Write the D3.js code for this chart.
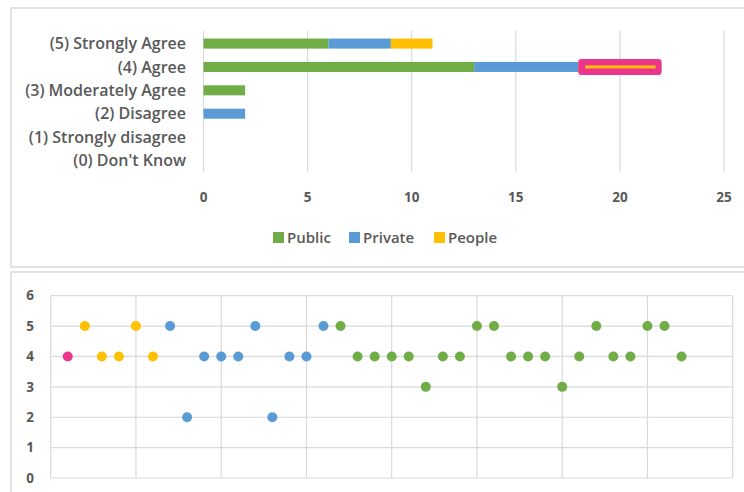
<!DOCTYPE html>
<html><head><meta charset="utf-8">
<script src="https://cdn.jsdelivr.net/npm/d3@7"></script>
<style>body{margin:0;background:#fff}svg{display:block;font-family:"Open Sans",Lato,sans-serif;font-weight:600}</style>
</head><body><svg id="c" width="744" height="492"></svg>
<script>
// ---- top chart data
const categories = ["(5) Strongly Agree","(4) Agree","(3) Moderately Agree","(2) Disagree","(1) Strongly disagree","(0) Don't Know"];
const publicVals  = [6, 13, 2, 0, 0, 0];
const privateVals = [3, 5, 0, 2, 0, 0];
const peopleVals  = [2, 4, 0, 0, 0, 0];
const highlighted = ["(4) Agree"];
const seriesNames = ["Public","Private","People"];
const xTicks = [0,5,10,15,20,25];
// ---- bottom chart data (respondent order, score, group)
const scatterScores = [4,5,4,4,5,4, 5,2,4,4,4,5,2,4,4,5, 5,4,4,4,4,3,4,4,5,5,4,4,4,3,4,5,4,4,5,5,4];
const scatterGroups = ["Highlight","People","People","People","People","People",
  "Private","Private","Private","Private","Private","Private","Private","Private","Private","Private",
  "Public","Public","Public","Public","Public","Public","Public","Public","Public","Public","Public","Public","Public","Public","Public","Public","Public","Public","Public","Public","Public"];
const yTicks = [0,1,2,3,4,5,6];

const colors = {Public:"#70ad47", Private:"#5b9bd5", People:"#ffc000", Highlight:"#ec368d"};
const textColor = "#595959", gridColor = "#d9d9d9";

const svg = d3.select("#c");
// panel frames
svg.append("rect").attr("x",11).attr("y",8).attr("width",740).attr("height",259)
  .attr("fill","none").attr("stroke",gridColor).attr("stroke-width",1.5);
svg.append("rect").attr("x",11).attr("y",272).attr("width",740).attr("height",230)
  .attr("fill","none").attr("stroke",gridColor).attr("stroke-width",1.5);

// ===== top bar chart
const x = d3.scaleLinear().domain([0,25]).range([203.5,724]);
const y = d3.scaleBand().domain(categories).range([32,172]).paddingInner(0.57).paddingOuter(0.28);
const g1 = svg.append("g");
g1.selectAll("line.grid").data(xTicks).join("line").attr("class","grid")
  .attr("x1",d=>x(d)).attr("x2",d=>x(d)).attr("y1",31).attr("y2",172)
  .attr("stroke",gridColor).attr("stroke-width",1.2);
g1.selectAll("text.tick").data(xTicks).join("text").attr("class","tick")
  .attr("x",d=>x(d)).attr("y",201.5).attr("text-anchor","middle").attr("font-weight",700)
  .attr("fill",textColor).attr("font-size",13.5).text(d=>d);
g1.selectAll("text.cat").data(categories).join("text").attr("class","cat")
  .attr("x",186).attr("y",d=>y(d)+y.bandwidth()/2).attr("dy","0.35em").attr("text-anchor","end")
  .attr("fill",textColor).attr("font-size",16).text(d=>d);

const rows = categories.map((c,i)=>({cat:c, Public:publicVals[i], Private:privateVals[i], People:peopleVals[i]}));
const stacked = d3.stack().keys(seriesNames)(rows);
stacked.forEach(s=>{
  g1.append("g").selectAll("rect").data(s.filter(d=>d[1]>d[0])).join("rect")
    .attr("x",d=>x(d[0])).attr("width",d=>x(d[1])-x(d[0]))
    .attr("y",d=>y(d.data.cat)).attr("height",y.bandwidth())
    .attr("fill",colors[s.key]);
});
// highlighted segment
const peopleSeries = stacked[2].filter(d=>highlighted.includes(d.data.cat) && d[1]>d[0]);
const hg = g1.append("g");
hg.selectAll("rect.hl").data(peopleSeries).join("rect").attr("class","hl")
  .attr("x",d=>x(d[0])).attr("width",d=>x(d[1])-x(d[0]))
  .attr("y",d=>y(d.data.cat)+y.bandwidth()/2-8).attr("height",16).attr("rx",3)
  .attr("fill",colors.Highlight);
hg.selectAll("rect.in").data(peopleSeries).join("rect").attr("class","in")
  .attr("x",d=>x(d[0])+7).attr("width",d=>x(d[1])-x(d[0])-13)
  .attr("y",d=>y(d.data.cat)+y.bandwidth()/2-1.5).attr("height",3)
  .attr("fill",colors.People);

// legend
const legendX = [273, 349, 434];
const lg = g1.append("g");
seriesNames.forEach((n,i)=>{
  lg.append("rect").attr("x",legendX[i]).attr("y",232).attr("width",11).attr("height",11).attr("fill",colors[n]);
  lg.append("text").attr("x",legendX[i]+14).attr("y",237.5).attr("dy","0.35em")
    .attr("fill",textColor).attr("font-size",15).text(n);
});

// ===== bottom scatter
const sx = d3.scaleLinear().domain([0,40]).range([50.7,732.7]);
const sy = d3.scaleLinear().domain([0,6]).range([478,295.7]);
const g2 = svg.append("g");
g2.selectAll("line.v").data(d3.range(0,41,5)).join("line").attr("class","v")
  .attr("x1",d=>sx(d)).attr("x2",d=>sx(d)).attr("y1",sy(6)).attr("y2",sy(0))
  .attr("stroke",gridColor).attr("stroke-width",1.2);
g2.selectAll("line.h").data(yTicks).join("line").attr("class","h")
  .attr("x1",sx(0)).attr("x2",sx(40)).attr("y1",d=>sy(d)).attr("y2",d=>sy(d))
  .attr("stroke",gridColor).attr("stroke-width",1.2);
g2.selectAll("text.yt").data(yTicks).join("text").attr("class","yt")
  .attr("x",34).attr("y",d=>sy(d)).attr("dy","0.35em").attr("text-anchor","end").attr("font-weight",700)
  .attr("fill",textColor).attr("font-size",13.5).text(d=>d);
g2.selectAll("circle").data(scatterScores).join("circle")
  .attr("cx",(d,i)=>sx(i+1)).attr("cy",d=>sy(d)).attr("r",5)
  .attr("fill",(d,i)=>colors[scatterGroups[i]]);
</script></body></html>
